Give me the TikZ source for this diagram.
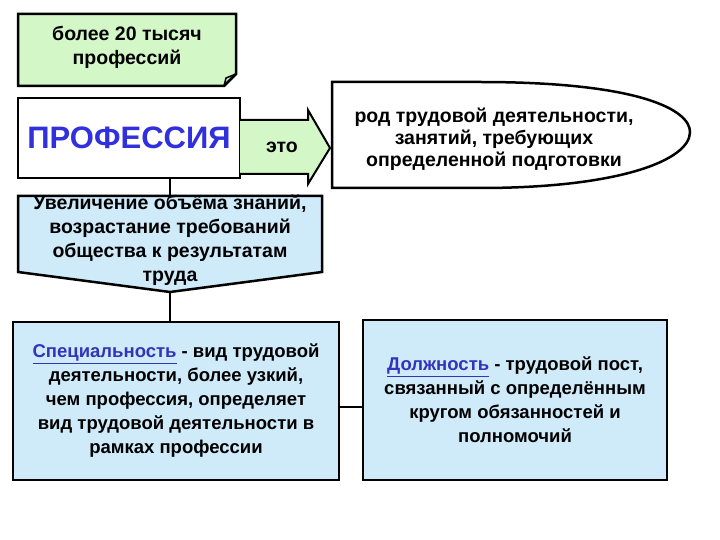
\documentclass[tikz,border=0pt]{standalone}
\usepackage{fontspec}
\setmainfont{Liberation Sans}
\definecolor{lgreen}{HTML}{D4F7C8}
\definecolor{lblue}{HTML}{CFEBFA}
\definecolor{lnk}{HTML}{3333BB}
\definecolor{pblue}{HTML}{3030DD}
\begin{document}
\begin{tikzpicture}[x=1pt,y=-1pt,
  box/.style={draw=black,line width=2.5pt},
  txt/.style={font=\bfseries\fontsize{19.5}{24}\selectfont,align=center,inner sep=0pt},
  conn/.style={line width=2.5pt}]
\useasboundingbox (0,0) rectangle (720,540);
% green note
\draw[box,fill=lgreen] (18,14) -- (236,14) -- (236,74) -- (224,86) -- (18,86) -- cycle;
\draw[line width=1.5pt] (224,86) -- (226,78) -- (236,74);
\node[txt] (note) at (127,47) {более 20 тысяч\\профессий};
% profession
\node[box,fill=white,minimum width=222pt,minimum height=80pt,text=pblue,font=\bfseries\fontsize{31}{34}\selectfont] (prof) at (129,138) {ПРОФЕССИЯ};
% arrow
\draw[line width=2pt,fill=lgreen] (240,120) -- (308,120) -- (308,110) -- (330,148) -- (308,184) -- (308,174) -- (240,174);
\node[txt] (eto) at (282,147) {это};
% callout
\draw[box,fill=white] (332,188) -- (332,82) -- (480,82) .. controls (640,82) and (690,110) .. (690,132) .. controls (690,160) and (620,188) .. (480,188) -- cycle;
\node[txt,font=\bfseries\fontsize{19.5}{22}\selectfont] (def) at (494,139) {род трудовой деятельности,\\занятий, требующих\\определенной подготовки};
% pentagon
\draw[box,fill=lblue] (18,196) -- (322,196) -- (322,272) -- (170,292) -- (18,272) -- cycle;
\coordinate (ptop) at (170,196);
\coordinate (ptip) at (170,292);
\coordinate (pbot) at (170,178);
\node[txt] (incr) at (170,240) {Увеличение объёма знаний,\\возрастание требований\\общества к результатам\\труда};
\draw[conn] (pbot) -- (ptop);
% lower boxes
\node[box,fill=lblue,minimum width=326pt,minimum height=158pt] (spec) at (176,401) {};
\node[txt,font=\bfseries\fontsize{18.5}{24}\selectfont] at (spec.center) {\textcolor{lnk}{\underline{Специальность}} - вид трудовой\\деятельности, более узкий,\\чем профессия, определяет\\вид трудовой деятельности в\\рамках профессии};
\node[box,fill=lblue,minimum width=304pt,minimum height=160pt] (dolzh) at (515,400) {};
\node[txt,font=\bfseries\fontsize{18.5}{24}\selectfont] at (dolzh.center) {\textcolor{lnk}{\underline{Должность}} - трудовой пост,\\связанный с определённым\\кругом обязанностей и\\полномочий};
\draw[conn] (ptip) -- (ptip |- spec.north);
\draw[conn] (spec.east |- 0,407) -- (dolzh.west |- 0,407);
\end{tikzpicture}
\end{document}
